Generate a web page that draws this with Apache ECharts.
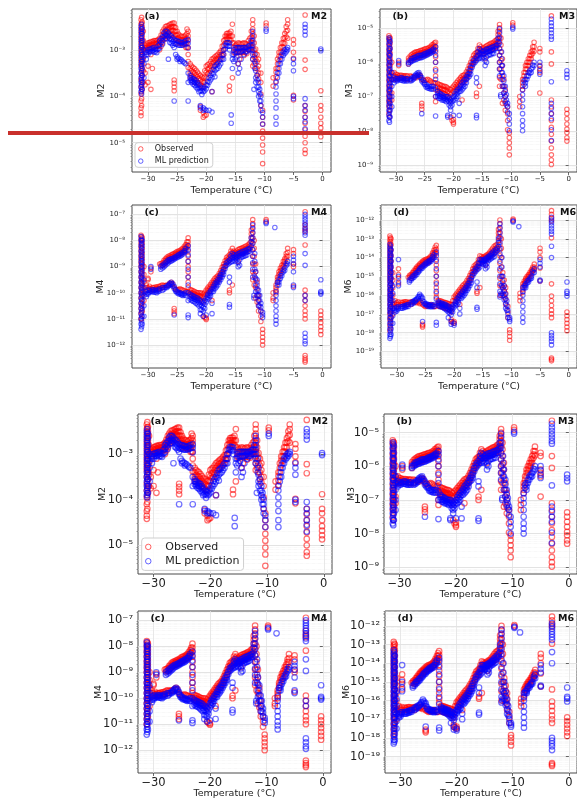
<!DOCTYPE html>
<html>
<head>
<meta charset="utf-8">
<script src="https://cdn.jsdelivr.net/npm/echarts@6.0.0/dist/echarts.min.js"></script>
<style>
html, body { margin: 0; padding: 0; background: #fff; }
#main { width: 577px; height: 803px; }
</style>
</head>
<body>
<div id="main"></div>
<script>
// each entry: [temperature °C, [log10 of the moment values read at that temperature]]
var obsM2 = [
  [-31.2, [-2.35,-2.45,-2.55,-2.65,-2.75,-2.85,-2.95,-3.05,-3.15,-3.25,-3.35,-3.5,-3.65,-3.8,-3.95,-4.1,-4.25,-4.35,-4.42]],
  [-31.1, [-2.3,-2.42,-2.52,-2.62,-2.72,-2.82,-2.92,-3.02,-3.12,-3.22,-3.32,-3.45,-3.6,-3.75,-3.9,-4.05,-4.2]],
  [-31.0, [-2.4,-2.5,-2.6,-2.7,-2.8,-2.9,-3.0,-3.1,-3.2,-3.3,-3.4,-3.55,-3.7,-3.85]],
  [-30.8, [-2.6,-2.8,-3.0,-3.2,-3.45,-3.7]],
  [-30.5, [-2.9,-2.95,-3.05,-3.5,-3.75]],
  [-30.2, [-2.88,-2.94,-3.0]],
  [-30.0, [-2.85,-2.9,-2.95,-3.35,-3.7]],
  [-29.75, [-2.84,-2.9,-2.96]],
  [-29.5, [-2.82,-2.88,-2.95,-3.1,-3.85]],
  [-29.25, [-2.82,-2.88,-2.95,-3.4]],
  [-29.0, [-2.8,-2.85,-2.92]],
  [-28.75, [-2.8,-2.86,-2.92]],
  [-28.5, [-2.8,-2.86,-2.93]],
  [-28.25, [-2.78,-2.84,-2.92]],
  [-28.0, [-2.75,-2.82,-2.9,-3.0]],
  [-27.75, [-2.68,-2.76,-2.84,-2.92]],
  [-27.5, [-2.6,-2.68,-2.76,-2.85]],
  [-27.25, [-2.55,-2.62,-2.7,-2.78]],
  [-27.0, [-2.5,-2.58,-2.66,-2.75]],
  [-26.75, [-2.48,-2.55,-2.62,-2.7]],
  [-26.5, [-2.48,-2.55,-2.62,-2.72]],
  [-26.25, [-2.45,-2.52,-2.6,-2.68]],
  [-26.0, [-2.44,-2.5,-2.58,-2.68]],
  [-25.75, [-2.42,-2.5,-2.58,-2.66]],
  [-25.5, [-2.42,-2.5,-2.6,-2.72,-3.65,-3.72,-3.8,-3.88]],
  [-25.25, [-2.52,-2.6,-2.68,-2.76]],
  [-25.0, [-2.6,-2.68,-2.76,-2.85]],
  [-24.75, [-2.66,-2.74,-2.82]],
  [-24.5, [-2.7,-2.78,-2.86]],
  [-24.25, [-2.7,-2.78,-2.86]],
  [-24.0, [-2.72,-2.8,-2.88]],
  [-23.75, [-2.7,-2.78,-2.86]],
  [-23.5, [-2.68,-2.76,-2.85,-2.95]],
  [-23.3, [-2.55,-2.65,-2.75,-2.85,-2.95]],
  [-23.1, [-2.6,-2.7,-2.8,-2.95,-3.1,-3.25,-3.38]],
  [-22.75, [-3.3,-3.4,-3.5,-3.6]],
  [-22.5, [-3.35,-3.45,-3.55]],
  [-22.25, [-3.38,-3.48,-3.58]],
  [-22.0, [-3.4,-3.5,-3.6,-3.7]],
  [-21.75, [-3.44,-3.54,-3.64]],
  [-21.5, [-3.48,-3.58,-3.7]],
  [-21.25, [-3.52,-3.62,-3.72]],
  [-21.0, [-3.55,-3.65,-3.75,-4.22,-4.3]],
  [-20.75, [-3.58,-3.68,-3.78]],
  [-20.5, [-3.6,-3.7,-3.8,-4.35,-4.45]],
  [-20.25, [-3.45,-3.58,-3.7,-4.42]],
  [-20.0, [-3.35,-3.48,-3.6,-4.4]],
  [-19.75, [-3.32,-3.42,-3.52]],
  [-19.5, [-3.3,-3.4,-3.5]],
  [-19.25, [-3.25,-3.35,-3.45]],
  [-19.0, [-3.2,-3.3,-3.42,-3.9]],
  [-18.75, [-3.18,-3.26,-3.36]],
  [-18.5, [-3.15,-3.22,-3.32]],
  [-18.25, [-3.12,-3.2,-3.28]],
  [-18.0, [-3.1,-3.18,-3.26]],
  [-17.75, [-3.06,-3.14,-3.22]],
  [-17.5, [-3.02,-3.1,-3.2]],
  [-17.25, [-2.92,-3.02,-3.12]],
  [-17.0, [-2.8,-2.9,-3.0,-3.1]],
  [-16.75, [-2.7,-2.78,-2.86]],
  [-16.5, [-2.65,-2.7,-2.76]],
  [-16.25, [-2.64,-2.7,-2.76]],
  [-16.0, [-2.64,-2.7,-2.78,-3.78,-3.88]],
  [-15.75, [-2.6,-2.7,-2.8]],
  [-15.5, [-2.45,-2.7,-2.85,-3.6]],
  [-15.25, [-2.85,-2.95,-3.05]],
  [-15.0, [-2.9,-2.98,-3.08]],
  [-14.75, [-2.88,-2.96,-3.06]],
  [-14.5, [-2.85,-2.94,-3.04,-3.3]],
  [-14.25, [-2.86,-2.96,-3.06,-3.2]],
  [-14.0, [-2.88,-2.96,-3.06]],
  [-13.75, [-2.86,-2.96,-3.06]],
  [-13.5, [-2.85,-2.95,-3.12]],
  [-13.25, [-2.86,-2.96,-3.06]],
  [-13.0, [-2.88,-2.98,-3.08]],
  [-12.75, [-2.8,-2.9,-3.0]],
  [-12.5, [-2.75,-2.86,-2.96]],
  [-12.25, [-2.6,-2.72,-2.84,-2.96]],
  [-12.0, [-2.35,-2.45,-2.55,-2.65,-2.75,-2.85,-2.95,-3.05,-3.2,-3.35]],
  [-11.75, [-2.7,-2.85,-3.0,-3.15,-3.3]],
  [-11.5, [-2.98,-3.08,-3.2,-3.4]],
  [-11.25, [-3.1,-3.25,-3.4,-3.55]],
  [-11.0, [-3.2,-3.35,-3.5,-3.62]],
  [-10.6, [-3.5,-3.7,-3.95,-4.2]],
  [-10.3, [-4.3,-4.45,-4.6,-4.75,-4.9,-5.05,-5.2,-5.45]],
  [-9.7, [-2.42,-2.48]],
  [-8.5, [-3.6,-3.78]],
  [-8.0, [-3.4,-3.48,-3.58,-3.68]],
  [-7.75, [-3.2,-3.3,-3.4]],
  [-7.5, [-3.05,-3.14,-3.24]],
  [-7.25, [-2.95,-3.05,-3.15]],
  [-7.0, [-2.85,-2.94,-3.05]],
  [-6.75, [-2.75,-2.85,-2.95]],
  [-6.5, [-2.65,-2.74,-2.86]],
  [-6.25, [-2.5,-2.6,-2.72]],
  [-6.0, [-2.35,-2.45,-2.58,-2.75]],
  [-5.0, [-2.78,-2.88,-3.05,-3.18,-3.98,-4.08]],
  [-3.0, [-2.25,-3.22,-3.42,-4.2,-4.32,-4.45,-4.58,-4.72,-4.86,-5.0,-5.15,-5.23]],
  [-0.3, [-3.88,-4.2,-4.3,-4.45,-4.58,-4.68,-4.78,-4.87]]
];
var mlM2 = [
  [-31.2, [-2.5,-2.6,-2.7,-2.8,-2.9,-3.0,-3.1,-3.2,-3.3,-3.4,-3.5,-3.6,-3.7,-3.8,-3.9]],
  [-31.1, [-2.45,-2.55,-2.65,-2.75,-2.85,-2.95,-3.05,-3.15,-3.25,-3.35,-3.45,-3.55,-3.65,-3.75,-3.85,-3.95]],
  [-31.0, [-2.55,-2.65,-2.8,-2.95,-3.1,-3.25,-3.4,-3.55,-3.7,-3.85]],
  [-30.7, [-3.0,-3.15,-3.3,-3.6]],
  [-30.3, [-3.05,-3.1,-3.2]],
  [-30.0, [-3.0,-3.05,-3.1]],
  [-29.75, [-2.98,-3.04]],
  [-29.5, [-2.98,-3.04]],
  [-29.25, [-2.96,-3.02]],
  [-29.0, [-2.95,-3.0,-3.05]],
  [-28.75, [-2.98,-3.04]],
  [-28.5, [-3.0,-3.06]],
  [-28.25, [-2.9,-2.98]],
  [-28.0, [-2.8,-2.88,-2.96]],
  [-27.75, [-2.76,-2.84]],
  [-27.5, [-2.72,-2.8,-2.88]],
  [-27.25, [-2.64,-2.72]],
  [-27.0, [-2.6,-2.68,-2.76]],
  [-26.75, [-2.6,-2.68,-2.76]],
  [-26.5, [-2.64,-2.72,-3.2]],
  [-26.25, [-2.68,-2.76,-2.84]],
  [-26.0, [-2.7,-2.78,-2.86]],
  [-25.75, [-2.74,-2.82,-2.9]],
  [-25.5, [-2.78,-2.86,-2.95,-4.1]],
  [-25.25, [-2.8,-2.88,-3.1]],
  [-25.0, [-2.8,-2.88,-3.15,-3.2]],
  [-24.75, [-2.82,-2.9,-3.18]],
  [-24.5, [-2.82,-2.9,-3.2,-3.25]],
  [-24.25, [-2.84,-2.9,-3.22]],
  [-24.0, [-2.84,-2.9,-3.25]],
  [-23.75, [-2.82,-2.88,-3.28]],
  [-23.5, [-2.8,-2.87,-3.3]],
  [-23.1, [-2.78,-2.86,-2.96,-3.5,-3.7,-4.1]],
  [-22.75, [-3.55,-3.6,-3.66]],
  [-22.5, [-3.6,-3.65,-3.7]],
  [-22.25, [-3.62,-3.68,-3.74]],
  [-22.0, [-3.64,-3.7,-3.76]],
  [-21.75, [-3.66,-3.72,-3.8]],
  [-21.5, [-3.7,-3.76,-3.84]],
  [-21.25, [-3.75,-3.82,-3.9]],
  [-21.0, [-3.8,-3.88,-4.2,-4.25]],
  [-20.75, [-3.82,-3.88,-3.96]],
  [-20.5, [-3.84,-3.9,-4.25,-4.3]],
  [-20.25, [-3.8,-3.88,-4.28]],
  [-20.0, [-3.75,-3.84,-4.3]],
  [-19.75, [-3.68,-3.76]],
  [-19.5, [-3.6,-3.7,-4.3]],
  [-19.25, [-3.55,-3.65]],
  [-19.0, [-3.5,-3.6,-3.9,-4.34]],
  [-18.75, [-3.42,-3.52]],
  [-18.5, [-3.35,-3.45,-3.58]],
  [-18.25, [-3.32,-3.42]],
  [-18.0, [-3.3,-3.4]],
  [-17.75, [-3.25,-3.35]],
  [-17.5, [-3.2,-3.3]],
  [-17.25, [-3.1,-3.2]],
  [-17.0, [-3.0,-3.1,-3.2]],
  [-16.75, [-2.9,-2.98]],
  [-16.5, [-2.84,-2.9]],
  [-16.25, [-2.84,-2.92]],
  [-16.0, [-2.85,-2.92,-3.0]],
  [-15.7, [-4.4,-4.58]],
  [-15.5, [-3.1,-3.2,-3.4]],
  [-15.25, [-3.0,-3.1,-3.25]],
  [-15.0, [-2.95,-3.05,-3.2]],
  [-14.75, [-2.95,-3.05,-3.15]],
  [-14.5, [-2.95,-3.05,-3.3,-3.5]],
  [-14.25, [-2.95,-3.05,-3.4]],
  [-14.0, [-2.95,-3.04,-3.2]],
  [-13.75, [-2.95,-3.02]],
  [-13.5, [-2.95,-3.0,-3.1]],
  [-13.25, [-2.95,-3.04]],
  [-13.0, [-2.95,-3.04]],
  [-12.75, [-2.92,-3.0]],
  [-12.5, [-2.9,-3.0]],
  [-12.25, [-2.8,-2.9,-3.0]],
  [-12.0, [-2.6,-2.7,-2.8,-2.9,-3.0,-3.1,-3.2]],
  [-11.8, [-3.85]],
  [-11.65, [-3.1,-3.25,-3.4]],
  [-11.5, [-3.3,-3.45,-3.6,-3.7]],
  [-11.25, [-3.55,-3.65,-3.8]],
  [-11.0, [-3.7,-3.8,-3.9,-4.0]],
  [-10.8, [-3.85,-3.95,-4.1]],
  [-10.6, [-4.0,-4.1,-4.2,-4.3]],
  [-10.3, [-4.35,-4.45,-4.6]],
  [-9.7, [-2.55,-2.6]],
  [-8.0, [-3.7,-3.8,-3.95,-4.1,-4.25,-4.45,-4.6]],
  [-7.75, [-3.5,-3.6]],
  [-7.5, [-3.3,-3.4,-3.5]],
  [-7.25, [-3.2,-3.3]],
  [-7.0, [-3.1,-3.2]],
  [-6.75, [-3.05,-3.12]],
  [-6.5, [-3.0,-3.08]],
  [-6.25, [-2.98,-3.04]],
  [-6.0, [-2.95,-3.0]],
  [-5.0, [-3.2,-3.3,-3.45,-4.0,-4.05]],
  [-3.0, [-2.45,-2.52,-2.6,-2.68,-4.05,-4.2,-4.3,-4.45,-4.55,-4.7]],
  [-0.3, [-2.98,-3.02]]
];
var obsM3 = [
  [-31.2, [-5.23,-5.35,-5.5,-5.65,-5.8,-5.95,-6.1,-6.25,-6.4,-6.55,-6.7,-6.85,-7.0,-7.15,-7.3,-7.5]],
  [-31.1, [-5.28,-5.4,-5.55,-5.7,-5.85,-6.0,-6.15,-6.3,-6.45,-6.6,-6.75,-6.9,-7.05,-7.2,-7.4,-7.6]],
  [-31.0, [-5.3,-5.45,-5.6,-5.75,-5.9,-6.1,-6.3,-6.5,-6.7,-6.9,-7.1,-7.3]],
  [-30.7, [-6.0,-6.3,-6.5,-6.9,-7.1]],
  [-30.3, [-6.3,-6.4,-6.5]],
  [-30.0, [-6.35,-6.42,-6.5]],
  [-29.75, [-6.36,-6.44]],
  [-29.5, [-6.0,-6.1,-6.4,-6.46]],
  [-29.25, [-6.38,-6.46]],
  [-29.0, [-6.38,-6.45]],
  [-28.75, [-6.4,-6.46]],
  [-28.5, [-6.4,-6.46]],
  [-28.25, [-6.4,-6.48]],
  [-28.0, [-6.4,-6.5]],
  [-27.8, [-5.88,-5.95,-6.05]],
  [-27.5, [-5.82,-5.9,-6.4,-6.5]],
  [-27.25, [-5.78,-5.86,-5.94,-6.42]],
  [-27.0, [-5.75,-5.82,-5.9,-6.42]],
  [-26.75, [-5.72,-5.8,-5.88,-6.44]],
  [-26.5, [-5.7,-5.78,-5.86,-6.45]],
  [-26.25, [-5.7,-5.77,-5.85,-6.4]],
  [-26.0, [-5.68,-5.75,-5.85,-6.35,-6.42]],
  [-25.75, [-5.66,-5.74,-5.82,-6.4]],
  [-25.5, [-5.65,-5.72,-5.8,-6.5,-7.2,-7.28,-7.37]],
  [-25.25, [-5.64,-5.71,-5.79,-6.52]],
  [-25.0, [-5.62,-5.7,-5.78,-6.55]],
  [-24.75, [-5.6,-5.68,-5.76,-6.52]],
  [-24.5, [-5.6,-5.68,-5.75,-6.5]],
  [-24.25, [-5.57,-5.64,-5.72,-6.52]],
  [-24.0, [-5.55,-5.62,-5.7,-6.55]],
  [-23.75, [-5.5,-5.58,-5.66,-6.58]],
  [-23.5, [-5.48,-5.55,-5.65,-6.6]],
  [-23.3, [-5.44,-5.52,-5.62,-6.6]],
  [-23.1, [-5.42,-5.55,-5.7,-5.85,-6.0,-6.2,-6.4,-6.6,-6.8,-7.0,-7.15]],
  [-22.75, [-6.62,-6.72,-6.82]],
  [-22.5, [-6.65,-6.75,-6.85]],
  [-22.25, [-6.66,-6.76,-6.86]],
  [-22.0, [-6.68,-6.78,-6.9]],
  [-21.75, [-6.7,-6.8,-6.9]],
  [-21.5, [-6.7,-6.8,-6.92]],
  [-21.25, [-6.72,-6.82,-6.95]],
  [-21.0, [-6.75,-6.85,-7.0]],
  [-20.75, [-6.78,-6.9,-7.02]],
  [-20.5, [-6.8,-6.95,-7.1,-7.6]],
  [-20.25, [-6.75,-6.9,-7.7]],
  [-20.0, [-6.7,-6.85,-7.67,-7.75,-7.8]],
  [-19.75, [-6.65,-6.75,-6.85]],
  [-19.5, [-6.6,-6.7,-6.8]],
  [-19.25, [-6.55,-6.65,-6.75]],
  [-19.0, [-6.5,-6.6,-6.7]],
  [-18.75, [-6.45,-6.55,-6.65]],
  [-18.5, [-6.4,-6.5,-6.6,-7.1]],
  [-18.25, [-6.38,-6.48,-6.58]],
  [-18.0, [-6.35,-6.45,-6.55]],
  [-17.75, [-6.28,-6.38,-6.48]],
  [-17.5, [-6.2,-6.3,-6.4]],
  [-17.25, [-6.1,-6.2,-6.3]],
  [-17.0, [-6.0,-6.1,-6.2]],
  [-16.75, [-5.9,-6.0,-6.1]],
  [-16.5, [-5.8,-5.9,-6.0]],
  [-16.25, [-5.75,-5.85,-5.95]],
  [-16.0, [-5.72,-5.8,-5.9,-6.9,-7.0]],
  [-15.75, [-5.6,-5.7,-5.8]],
  [-15.5, [-5.5,-5.62,-5.75,-6.7]],
  [-15.25, [-5.55,-5.64,-5.72]],
  [-15.0, [-5.6,-5.68,-5.75]],
  [-14.75, [-5.58,-5.66,-5.74]],
  [-14.5, [-5.55,-5.62,-5.7,-5.9]],
  [-14.25, [-5.52,-5.6,-5.7]],
  [-14.0, [-5.5,-5.6,-5.68]],
  [-13.75, [-5.48,-5.56,-5.66]],
  [-13.5, [-5.45,-5.55,-5.65]],
  [-13.25, [-5.44,-5.52,-5.62]],
  [-13.0, [-5.42,-5.5,-5.6]],
  [-12.75, [-5.38,-5.46,-5.56]],
  [-12.5, [-5.35,-5.45,-5.55]],
  [-12.25, [-5.1,-5.2,-5.32,-5.45]],
  [-12.0, [-4.9,-5.0,-5.1,-5.25,-5.4,-5.6,-5.8,-6.0,-6.2,-6.45,-6.7]],
  [-11.75, [-5.3,-5.5,-5.7,-5.95,-6.2,-6.5]],
  [-11.5, [-5.9,-6.1,-6.4,-6.7,-7.2]],
  [-11.25, [-6.5,-6.7,-6.9,-7.1]],
  [-11.0, [-6.8,-7.0,-7.2,-7.4]],
  [-10.6, [-7.3,-7.5,-7.7,-7.97]],
  [-10.3, [-8.06,-8.2,-8.35,-8.5,-8.7]],
  [-9.7, [-4.85,-4.92]],
  [-8.5, [-7.0,-7.15,-7.3]],
  [-8.0, [-6.5,-6.6,-6.7,-6.8]],
  [-7.75, [-6.3,-6.4,-6.5]],
  [-7.5, [-6.1,-6.2,-6.3]],
  [-7.25, [-6.0,-6.1,-6.2]],
  [-7.0, [-5.9,-6.0,-6.1]],
  [-6.75, [-5.8,-5.9,-6.0]],
  [-6.5, [-5.7,-5.8,-5.9]],
  [-6.25, [-5.55,-5.65,-5.75]],
  [-6.0, [-5.42,-5.55,-5.68]],
  [-5.0, [-5.6,-5.7,-6.1,-6.2,-6.3,-6.9]],
  [-3.0, [-4.65,-5.7,-6.05,-7.1,-7.3,-7.5,-7.7,-7.9,-8.1,-8.3,-8.5,-8.7,-8.85,-8.98]],
  [-0.3, [-7.37,-7.5,-7.65,-7.8,-7.95,-8.05,-8.2,-8.3]]
];
var mlM3 = [
  [-31.2, [-5.3,-5.45,-5.6,-5.75,-5.9,-6.05,-6.2,-6.35,-6.5,-6.65,-6.8,-6.95,-7.1,-7.25,-7.4,-7.55,-7.7]],
  [-31.1, [-5.35,-5.5,-5.65,-5.8,-5.95,-6.1,-6.25,-6.4,-6.55,-6.7,-6.85,-7.0,-7.15,-7.3,-7.45,-7.6,-7.75]],
  [-31.0, [-5.4,-5.6,-5.8,-6.0,-6.2,-6.4,-6.6,-6.8,-7.0,-7.2,-7.4,-7.6]],
  [-30.7, [-6.3,-6.5,-6.7,-7.0,-7.3]],
  [-30.3, [-6.45,-6.52,-6.6]],
  [-30.0, [-6.48,-6.55]],
  [-29.75, [-6.48,-6.54]],
  [-29.5, [-5.95,-6.05,-6.5]],
  [-29.25, [-6.46,-6.52]],
  [-29.0, [-6.45,-6.52]],
  [-28.75, [-6.48,-6.54]],
  [-28.5, [-6.5,-6.55]],
  [-28.25, [-6.48,-6.54]],
  [-28.0, [-6.48,-6.55]],
  [-27.8, [-6.0,-6.05]],
  [-27.5, [-5.95,-6.0,-6.5,-6.55]],
  [-27.25, [-5.9,-5.97,-6.47,-6.53]],
  [-27.0, [-5.88,-5.95,-6.45,-6.5]],
  [-26.75, [-5.86,-5.93,-6.4,-6.46]],
  [-26.5, [-5.85,-5.92,-6.35,-6.4]],
  [-26.25, [-5.82,-5.9,-6.32,-6.38]],
  [-26.0, [-5.8,-5.88,-6.3,-6.36]],
  [-25.75, [-5.8,-5.87,-6.38,-6.45]],
  [-25.5, [-5.8,-5.86,-6.45,-6.55,-7.5]],
  [-25.25, [-5.78,-5.84,-6.52,-6.6]],
  [-25.0, [-5.75,-5.82,-6.6,-6.65]],
  [-24.75, [-5.74,-5.8,-6.65,-6.72]],
  [-24.5, [-5.72,-5.78,-6.7,-6.75]],
  [-24.25, [-5.7,-5.76,-6.7,-6.76]],
  [-24.0, [-5.68,-5.74,-6.72,-6.78]],
  [-23.75, [-5.65,-5.71,-6.7,-6.78]],
  [-23.5, [-5.62,-5.68,-6.7,-6.78]],
  [-23.1, [-5.55,-5.65,-5.8,-6.0,-6.25,-6.5,-6.75,-7.0,-7.57]],
  [-22.75, [-6.85,-6.92,-7.0]],
  [-22.5, [-6.9,-6.98,-7.05]],
  [-22.25, [-6.92,-7.0,-7.06]],
  [-22.0, [-6.95,-7.02,-7.1]],
  [-21.75, [-6.98,-7.04,-7.1]],
  [-21.5, [-7.0,-7.06,-7.12]],
  [-21.25, [-7.0,-7.08,-7.15]],
  [-21.0, [-7.0,-7.1,-7.55,-7.6]],
  [-20.75, [-7.05,-7.15,-7.25]],
  [-20.5, [-7.1,-7.2,-7.3,-7.4]],
  [-20.25, [-7.05,-7.15,-7.25]],
  [-20.0, [-7.0,-7.1,-7.55]],
  [-19.75, [-6.92,-7.0,-7.1]],
  [-19.5, [-6.85,-6.95,-7.05]],
  [-19.25, [-6.8,-6.9,-7.0]],
  [-19.0, [-6.75,-6.85,-7.2,-7.55]],
  [-18.75, [-6.68,-6.76,-6.85]],
  [-18.5, [-6.6,-6.7,-6.8]],
  [-18.25, [-6.55,-6.65,-6.75]],
  [-18.0, [-6.5,-6.6,-6.7]],
  [-17.75, [-6.42,-6.5,-6.6]],
  [-17.5, [-6.35,-6.45]],
  [-17.25, [-6.25,-6.33,-6.42]],
  [-17.0, [-6.15,-6.25,-6.35]],
  [-16.75, [-6.05,-6.15]],
  [-16.5, [-5.95,-6.05]],
  [-16.25, [-5.9,-6.0]],
  [-16.0, [-5.85,-5.95,-6.45,-6.6,-7.55,-7.62]],
  [-15.75, [-5.7,-5.8,-5.9]],
  [-15.5, [-5.6,-5.75,-5.9]],
  [-15.25, [-5.65,-5.75,-5.85]],
  [-15.0, [-5.7,-5.78,-5.9]],
  [-14.75, [-5.68,-5.76,-5.86]],
  [-14.5, [-5.65,-5.75,-5.95,-6.1]],
  [-14.25, [-5.62,-5.7,-5.85,-6.0]],
  [-14.0, [-5.62,-5.7,-5.8]],
  [-13.75, [-5.6,-5.68,-5.78]],
  [-13.5, [-5.58,-5.66,-5.78]],
  [-13.25, [-5.56,-5.64,-5.74]],
  [-13.0, [-5.55,-5.65,-5.75]],
  [-12.75, [-5.52,-5.6]],
  [-12.5, [-5.5,-5.6]],
  [-12.25, [-5.3,-5.4,-5.5]],
  [-12.0, [-5.03,-5.15,-5.3,-5.45,-5.6,-5.8,-6.0,-6.2,-6.4]],
  [-11.8, [-7.0,-6.95]],
  [-11.65, [-5.7,-5.9,-6.1,-6.3]],
  [-11.5, [-6.1,-6.3,-6.5,-6.7]],
  [-11.25, [-6.4,-6.55,-6.7,-6.9]],
  [-11.0, [-6.7,-6.85,-7.0,-7.15]],
  [-10.8, [-6.95,-7.1,-7.25]],
  [-10.6, [-7.2,-7.3,-7.45]],
  [-10.3, [-7.5,-7.65,-7.8,-8.0]],
  [-9.7, [-4.98,-5.03]],
  [-8.0, [-6.8,-6.95,-7.1,-7.3,-7.5,-7.7,-7.85,-8.0]],
  [-7.75, [-6.55,-6.65]],
  [-7.5, [-6.5,-6.6,-6.7]],
  [-7.25, [-6.4,-6.5]],
  [-7.0, [-6.3,-6.4]],
  [-6.75, [-6.25,-6.32]],
  [-6.5, [-6.2,-6.3]],
  [-6.25, [-6.08,-6.16]],
  [-6.0, [-6.0,-6.1]],
  [-5.0, [-6.0,-6.12,-6.25,-6.35]],
  [-3.0, [-4.74,-4.85,-4.95,-5.05,-5.15,-5.25,-5.33,-6.57,-7.2,-7.35,-7.5,-7.65,-7.97,-8.28]],
  [-0.3, [-6.25,-6.35,-6.45]]
];
var obsM4 = [
  [-31.2, [-7.8,-7.95,-8.1,-8.25,-8.4,-8.55,-8.7,-8.85,-9.0,-9.2,-9.4,-9.6,-9.8,-10.0,-10.2,-10.4,-10.6,-10.8,-11.0]],
  [-31.1, [-7.85,-8.0,-8.15,-8.3,-8.45,-8.6,-8.75,-8.9,-9.05,-9.25,-9.45,-9.65,-9.85,-10.05,-10.25,-10.5,-10.75,-11.0]],
  [-31.0, [-7.9,-8.1,-8.3,-8.5,-8.7,-8.9,-9.1,-9.3,-9.5,-9.7,-9.9,-10.1,-10.4,-10.7]],
  [-30.7, [-9.0,-9.3,-9.6,-10.0,-10.3]],
  [-30.3, [-9.7,-9.8,-9.9]],
  [-30.0, [-9.45,-9.5,-9.8,-9.9]],
  [-29.75, [-9.75,-9.85]],
  [-29.5, [-9.05,-9.2,-9.85,-9.92]],
  [-29.25, [-9.8,-9.88]],
  [-29.0, [-9.8,-9.88]],
  [-28.75, [-9.78,-9.86]],
  [-28.5, [-9.78,-9.85]],
  [-28.25, [-9.76,-9.84]],
  [-28.0, [-8.9,-9.75,-9.85]],
  [-27.75, [-8.88,-8.96,-9.72,-9.82]],
  [-27.5, [-8.85,-8.95,-9.7,-9.8]],
  [-27.25, [-8.76,-8.84,-8.92,-9.72]],
  [-27.0, [-8.7,-8.78,-8.86,-9.72]],
  [-26.75, [-8.64,-8.72,-8.8,-9.7]],
  [-26.5, [-8.6,-8.68,-8.76,-9.7]],
  [-26.25, [-8.58,-8.66,-8.74,-9.64]],
  [-26.0, [-8.55,-8.62,-8.7,-9.6,-9.68]],
  [-25.75, [-8.52,-8.6,-8.68,-9.66]],
  [-25.5, [-8.5,-8.58,-8.66,-9.8,-10.6,-10.7,-10.8]],
  [-25.25, [-8.46,-8.54,-8.62,-9.86]],
  [-25.0, [-8.42,-8.5,-8.58,-9.9]],
  [-24.75, [-8.4,-8.48,-8.56,-9.88]],
  [-24.5, [-8.38,-8.45,-8.52,-9.85]],
  [-24.25, [-8.34,-8.42,-8.5,-9.88]],
  [-24.0, [-8.3,-8.38,-8.46,-9.9]],
  [-23.75, [-8.22,-8.3,-8.4,-9.92]],
  [-23.5, [-8.15,-8.25,-8.35,-9.95]],
  [-23.3, [-8.05,-8.15,-8.25,-9.95]],
  [-23.1, [-7.9,-8.05,-8.2,-8.4,-8.6,-8.8,-9.0,-9.2,-9.4,-9.6,-9.8,-10.0]],
  [-22.75, [-9.88,-9.98,-10.08]],
  [-22.5, [-9.9,-10.0,-10.1]],
  [-22.25, [-9.92,-10.02,-10.12]],
  [-22.0, [-9.95,-10.05,-10.15]],
  [-21.75, [-9.98,-10.08,-10.18]],
  [-21.5, [-10.0,-10.1,-10.2]],
  [-21.25, [-10.0,-10.1,-10.22]],
  [-21.0, [-10.0,-10.12,-10.25]],
  [-20.75, [-10.02,-10.15,-10.3]],
  [-20.5, [-10.05,-10.2,-10.35,-10.9]],
  [-20.25, [-9.98,-10.12,-10.95]],
  [-20.0, [-9.9,-10.05,-10.97,-11.02]],
  [-19.75, [-9.82,-9.92,-10.02]],
  [-19.5, [-9.75,-9.85,-9.95]],
  [-19.25, [-9.68,-9.78,-9.88]],
  [-19.0, [-9.6,-9.7,-9.8,-10.3]],
  [-18.75, [-9.52,-9.62,-9.72]],
  [-18.5, [-9.45,-9.55,-9.65]],
  [-18.25, [-9.4,-9.5,-9.6]],
  [-18.0, [-9.35,-9.45,-9.55]],
  [-17.75, [-9.25,-9.35,-9.45]],
  [-17.5, [-9.15,-9.25,-9.35]],
  [-17.25, [-9.02,-9.12,-9.22]],
  [-17.0, [-8.9,-9.0,-9.1]],
  [-16.75, [-8.78,-8.88,-8.98]],
  [-16.5, [-8.65,-8.75,-8.85]],
  [-16.25, [-8.6,-8.7,-8.8]],
  [-16.0, [-8.55,-8.65,-8.75,-9.9,-10.0]],
  [-15.75, [-8.4,-8.5,-8.6]],
  [-15.5, [-8.3,-8.45,-8.6,-9.7]],
  [-15.25, [-8.4,-8.48,-8.56]],
  [-15.0, [-8.45,-8.52,-8.6]],
  [-14.75, [-8.4,-8.48,-8.56]],
  [-14.5, [-8.35,-8.45,-8.55,-8.8]],
  [-14.25, [-8.32,-8.42,-8.52]],
  [-14.0, [-8.3,-8.4,-8.5]],
  [-13.75, [-8.28,-8.38,-8.48]],
  [-13.5, [-8.25,-8.35,-8.45]],
  [-13.25, [-8.22,-8.32,-8.42]],
  [-13.0, [-8.2,-8.3,-8.4]],
  [-12.75, [-8.15,-8.25,-8.35]],
  [-12.5, [-8.1,-8.2,-8.3]],
  [-12.25, [-7.6,-7.75,-7.9,-8.05]],
  [-12.0, [-7.2,-7.35,-7.5,-7.7,-7.9,-8.1,-8.35,-8.6,-8.9,-9.2,-9.5]],
  [-11.75, [-8.0,-8.3,-8.6,-8.9,-9.3,-9.7]],
  [-11.5, [-8.9,-9.2,-9.5,-9.8,-10.2]],
  [-11.25, [-9.6,-9.85,-10.1,-10.35]],
  [-11.0, [-10.1,-10.3,-10.5,-10.7]],
  [-10.6, [-10.7,-10.9,-11.1]],
  [-10.3, [-11.4,-11.55,-11.7,-11.85,-12.0]],
  [-9.7, [-7.2,-7.26]],
  [-8.5, [-10.0,-10.2,-10.3]],
  [-8.0, [-9.7,-9.8,-9.9,-10.0]],
  [-7.75, [-9.4,-9.5,-9.6]],
  [-7.5, [-9.2,-9.3,-9.4]],
  [-7.25, [-9.05,-9.15,-9.25]],
  [-7.0, [-8.95,-9.05,-9.15]],
  [-6.75, [-8.8,-8.9,-9.0]],
  [-6.5, [-8.7,-8.8,-8.9]],
  [-6.25, [-8.5,-8.6,-8.7]],
  [-6.0, [-8.3,-8.45,-8.6]],
  [-5.0, [-8.35,-8.5,-8.9,-9.0,-9.75]],
  [-3.0, [-6.9,-7.4,-7.55,-7.65,-8.17,-9.9,-10.1,-10.3,-10.5,-10.7,-10.85,-11.0,-12.4,-12.5,-12.58,-12.65]],
  [-0.3, [-10.7,-10.85,-11.0,-11.15,-11.3,-11.45,-11.6]]
];
var mlM4 = [
  [-31.2, [-7.85,-8.0,-8.2,-8.4,-8.6,-8.8,-9.0,-9.2,-9.4,-9.6,-9.8,-10.0,-10.2,-10.4,-10.6,-10.8,-11.0,-11.2,-11.4]],
  [-31.1, [-7.95,-8.1,-8.3,-8.5,-8.7,-8.9,-9.1,-9.3,-9.5,-9.7,-9.9,-10.1,-10.3,-10.5,-10.7,-10.9,-11.1,-11.3]],
  [-31.0, [-8.0,-8.2,-8.4,-8.6,-8.8,-9.0,-9.2,-9.4,-9.6,-9.8,-10.0,-10.3,-10.6,-10.9,-11.2]],
  [-30.7, [-9.5,-9.8,-10.1,-10.5,-10.9]],
  [-30.3, [-9.95,-10.05,-10.15]],
  [-30.0, [-9.9,-10.0,-10.05]],
  [-29.75, [-9.9,-9.98]],
  [-29.5, [-9.0,-9.1,-9.95]],
  [-29.25, [-9.88,-9.96]],
  [-29.0, [-9.9,-9.97]],
  [-28.75, [-9.9,-9.98]],
  [-28.5, [-9.92,-10.0]],
  [-28.25, [-9.88,-9.95]],
  [-28.0, [-9.85,-9.92]],
  [-27.8, [-9.0,-9.1]],
  [-27.5, [-8.95,-9.05,-9.8,-9.9]],
  [-27.25, [-8.9,-9.0,-9.8,-9.86]],
  [-27.0, [-8.85,-8.95,-9.8]],
  [-26.75, [-8.8,-8.9,-9.74,-9.8]],
  [-26.5, [-8.75,-8.85,-9.7,-9.75]],
  [-26.25, [-8.72,-8.8,-9.64,-9.7]],
  [-26.0, [-8.7,-8.78,-9.6,-9.66]],
  [-25.75, [-8.68,-8.75,-9.66,-9.74]],
  [-25.5, [-8.65,-8.72,-9.75,-9.85,-10.85]],
  [-25.25, [-8.62,-8.68,-9.88,-9.94]],
  [-25.0, [-8.58,-8.65,-9.95,-10.0]],
  [-24.75, [-8.55,-8.62,-9.98,-10.04]],
  [-24.5, [-8.52,-8.6,-10.0,-10.05]],
  [-24.25, [-8.48,-8.56,-10.02,-10.08]],
  [-24.0, [-8.45,-8.52,-10.05,-10.1]],
  [-23.75, [-8.38,-8.46,-10.02,-10.08]],
  [-23.5, [-8.3,-8.4,-10.0,-10.1]],
  [-23.1, [-8.2,-8.35,-8.55,-8.8,-9.1,-9.4,-9.7,-10.0,-10.3,-10.85,-10.95]],
  [-22.75, [-10.05,-10.15,-10.25]],
  [-22.5, [-10.1,-10.2,-10.3]],
  [-22.25, [-10.12,-10.22,-10.32]],
  [-22.0, [-10.15,-10.25,-10.35]],
  [-21.75, [-10.18,-10.28,-10.4]],
  [-21.5, [-10.2,-10.3,-10.45]],
  [-21.25, [-10.25,-10.38,-10.5]],
  [-21.0, [-10.3,-10.45,-10.65,-10.8]],
  [-20.75, [-10.35,-10.5,-10.65]],
  [-20.5, [-10.4,-10.55,-10.7,-10.9]],
  [-20.25, [-10.3,-10.45,-10.6]],
  [-20.0, [-10.2,-10.35,-10.85]],
  [-19.75, [-10.08,-10.16,-10.26]],
  [-19.5, [-10.0,-10.1,-10.2]],
  [-19.25, [-9.92,-10.02,-10.12]],
  [-19.0, [-9.85,-9.95,-10.4,-10.8]],
  [-18.75, [-9.75,-9.85,-9.95]],
  [-18.5, [-9.65,-9.75,-9.85]],
  [-18.25, [-9.58,-9.68,-9.78]],
  [-18.0, [-9.5,-9.6,-9.7]],
  [-17.75, [-9.4,-9.5,-9.6]],
  [-17.5, [-9.3,-9.4,-9.5]],
  [-17.25, [-9.2,-9.3,-9.4]],
  [-17.0, [-9.1,-9.2,-9.3]],
  [-16.75, [-8.98,-9.08]],
  [-16.5, [-8.85,-8.95]],
  [-16.25, [-8.8,-8.9]],
  [-16.0, [-8.75,-8.85,-9.4,-9.6,-10.45,-10.55]],
  [-15.75, [-8.58,-8.7,-8.82]],
  [-15.5, [-8.5,-8.65,-8.8]],
  [-15.25, [-8.55,-8.65,-8.75]],
  [-15.0, [-8.6,-8.68,-8.8]],
  [-14.75, [-8.55,-8.65,-8.75]],
  [-14.5, [-8.5,-8.6,-8.85,-9.0]],
  [-14.25, [-8.48,-8.58,-8.75,-8.95]],
  [-14.0, [-8.45,-8.55,-8.65]],
  [-13.75, [-8.42,-8.52,-8.62]],
  [-13.5, [-8.4,-8.5,-8.6]],
  [-13.25, [-8.38,-8.48,-8.58]],
  [-13.0, [-8.35,-8.45,-8.55]],
  [-12.75, [-8.32,-8.42]],
  [-12.5, [-8.3,-8.4]],
  [-12.25, [-7.9,-8.05,-8.2]],
  [-12.0, [-7.4,-7.55,-7.7,-7.9,-8.1,-8.35,-8.6,-8.85,-9.1,-9.4]],
  [-11.8, [-10.2,-10.1]],
  [-11.65, [-8.5,-8.8,-9.1,-9.4]],
  [-11.5, [-9.2,-9.45,-9.7,-9.95]],
  [-11.25, [-9.5,-9.7,-9.9,-10.1]],
  [-11.0, [-9.9,-10.1,-10.3,-10.5]],
  [-10.8, [-10.1,-10.3,-10.5]],
  [-10.6, [-10.4,-10.55,-10.7]],
  [-10.3, [-10.75,-10.85,-10.95]],
  [-9.7, [-7.3,-7.35]],
  [-8.2, [-7.5]],
  [-8.0, [-9.95,-10.1,-10.3,-10.5,-10.7,-10.9,-11.05,-11.2]],
  [-7.75, [-9.6,-9.7]],
  [-7.5, [-9.5,-9.6,-9.7]],
  [-7.25, [-9.35,-9.45]],
  [-7.0, [-9.25,-9.35]],
  [-6.75, [-9.12,-9.2]],
  [-6.5, [-9.05,-9.15]],
  [-6.25, [-8.88,-8.96]],
  [-6.0, [-8.8,-8.9]],
  [-5.0, [-8.6,-8.75,-8.9,-9.2,-9.7,-9.8]],
  [-3.0, [-7.0,-7.1,-7.2,-7.3,-7.4,-7.5,-7.6,-7.7,-7.8,-8.5,-8.95,-10.1,-10.3,-11.55,-11.7,-11.85,-11.95]],
  [-0.3, [-9.5,-9.95,-10.0,-10.05]]
];
var obsM6 = [
  [-31.2, [-12.85,-13.05,-13.25,-13.45,-13.65,-13.85,-14.05,-14.25,-14.45,-14.65,-14.85,-15.05,-15.25,-15.5,-15.75,-16.0,-16.25,-16.5,-16.75,-17.0,-17.3,-17.6,-17.9]],
  [-31.1, [-12.95,-13.15,-13.35,-13.55,-13.75,-13.95,-14.15,-14.35,-14.55,-14.75,-14.95,-15.15,-15.4,-15.65,-15.9,-16.15,-16.4,-16.65,-16.9,-17.15,-17.45,-17.75]],
  [-31.0, [-13.0,-13.3,-13.6,-13.9,-14.2,-14.5,-14.8,-15.1,-15.4,-15.7,-16.0,-16.3,-16.6,-16.9,-17.2]],
  [-30.7, [-14.8,-15.2,-15.6,-16.0,-16.5,-17.0]],
  [-30.3, [-16.3,-16.45,-16.6]],
  [-30.0, [-16.4,-16.5,-16.62]],
  [-29.75, [-16.35,-16.5]],
  [-29.7, [-14.6,-14.9,-15.1,-15.4]],
  [-29.25, [-16.38,-16.5]],
  [-29.0, [-16.4,-16.5]],
  [-28.75, [-16.36,-16.48]],
  [-28.5, [-16.35,-16.45]],
  [-28.25, [-16.36,-16.48]],
  [-28.0, [-15.05,-16.4,-16.5]],
  [-27.75, [-14.95,-15.05,-16.38]],
  [-27.5, [-14.9,-15.0,-15.1,-16.35,-16.5]],
  [-27.25, [-14.8,-14.9,-15.0,-16.35]],
  [-27.0, [-14.7,-14.8,-14.9,-16.35]],
  [-26.75, [-14.6,-14.7,-14.8,-16.38]],
  [-26.5, [-14.5,-14.6,-14.7,-16.4]],
  [-26.25, [-14.42,-14.52,-14.62,-16.35]],
  [-26.0, [-14.35,-14.45,-14.55,-16.3,-16.45]],
  [-25.75, [-14.28,-14.38,-14.48,-16.4]],
  [-25.5, [-14.2,-14.3,-14.4,-16.5,-17.55,-17.62,-17.7]],
  [-25.25, [-14.15,-14.25,-14.35,-16.55]],
  [-25.0, [-14.1,-14.2,-14.3,-16.6]],
  [-24.75, [-14.08,-14.18,-14.28,-16.58]],
  [-24.5, [-14.05,-14.15,-14.25,-16.55]],
  [-24.25, [-13.98,-14.08,-14.18,-16.52]],
  [-24.0, [-13.9,-14.0,-14.1,-16.5]],
  [-23.75, [-13.75,-13.85,-13.98,-16.55]],
  [-23.5, [-13.6,-13.75,-13.9,-16.6]],
  [-23.3, [-13.45,-13.6,-13.75,-16.6]],
  [-23.1, [-13.35,-13.55,-13.8,-14.1,-14.4,-14.7,-15.0,-15.3,-15.6,-15.9,-16.1]],
  [-22.75, [-16.28,-16.42,-16.56]],
  [-22.5, [-16.3,-16.45,-16.6]],
  [-22.25, [-16.32,-16.46,-16.6]],
  [-22.0, [-16.35,-16.5,-16.65]],
  [-21.75, [-16.38,-16.52,-16.66]],
  [-21.5, [-16.4,-16.55,-16.7]],
  [-21.25, [-16.42,-16.56,-16.72]],
  [-21.0, [-16.45,-16.6,-16.75]],
  [-20.75, [-16.48,-16.64,-16.8]],
  [-20.5, [-16.5,-16.7,-16.9,-17.3,-17.4]],
  [-20.25, [-16.3,-16.5,-17.45]],
  [-20.0, [-16.1,-16.3,-17.4,-17.5]],
  [-19.75, [-16.0,-16.15,-16.3]],
  [-19.5, [-15.9,-16.05,-16.2]],
  [-19.25, [-15.8,-15.95,-16.1]],
  [-19.0, [-15.7,-15.85,-16.0,-16.5]],
  [-18.75, [-15.6,-15.75,-15.9]],
  [-18.5, [-15.5,-15.65,-15.8]],
  [-18.25, [-15.42,-15.58,-15.72]],
  [-18.0, [-15.35,-15.5,-15.65]],
  [-17.75, [-15.22,-15.38,-15.52]],
  [-17.5, [-15.1,-15.25,-15.4]],
  [-17.25, [-14.95,-15.1,-15.25]],
  [-17.0, [-14.8,-14.95,-15.1]],
  [-16.75, [-14.6,-14.75,-14.9]],
  [-16.5, [-14.45,-14.6,-14.75]],
  [-16.25, [-14.38,-14.52,-14.66]],
  [-16.0, [-14.3,-14.45,-14.6,-15.8,-15.9]],
  [-15.75, [-14.1,-14.25,-14.4]],
  [-15.5, [-13.9,-14.1,-14.3,-15.6]],
  [-15.25, [-13.95,-14.05,-14.15]],
  [-15.0, [-14.0,-14.1,-14.2]],
  [-14.75, [-13.95,-14.05,-14.15]],
  [-14.5, [-13.9,-14.0,-14.1,-14.4]],
  [-14.25, [-13.85,-13.95,-14.05]],
  [-14.0, [-13.8,-13.9,-14.0]],
  [-13.75, [-13.7,-13.82,-13.95]],
  [-13.5, [-13.6,-13.75,-13.9]],
  [-13.25, [-13.5,-13.65,-13.8]],
  [-13.0, [-13.4,-13.6,-13.8]],
  [-12.75, [-13.35,-13.5,-13.65]],
  [-12.5, [-13.3,-13.45,-13.6]],
  [-12.25, [-12.5,-12.7,-12.9,-13.1]],
  [-12.0, [-12.0,-12.2,-12.45,-12.7,-13.0,-13.3,-13.6,-13.9,-14.3,-14.7,-15.1,-15.5,-16.0]],
  [-11.75, [-13.0,-13.5,-14.0,-14.5,-15.0,-15.5]],
  [-11.5, [-14.8,-15.2,-15.6,-16.0]],
  [-11.25, [-15.2,-15.5,-15.8,-16.1]],
  [-11.0, [-15.6,-15.9,-16.2,-16.5]],
  [-10.6, [-16.6,-16.9,-17.2]],
  [-10.3, [-17.85,-18.0,-18.2,-18.4]],
  [-9.7, [-11.95,-12.02]],
  [-8.5, [-15.9,-16.1,-16.3]],
  [-8.0, [-15.4,-15.55,-15.7,-15.85]],
  [-7.75, [-15.25,-15.35,-15.45]],
  [-7.5, [-15.1,-15.2,-15.3]],
  [-7.25, [-15.0,-15.1,-15.2]],
  [-7.0, [-14.9,-15.0,-15.1]],
  [-6.75, [-14.78,-14.88,-14.98]],
  [-6.5, [-14.65,-14.75,-14.85]],
  [-6.25, [-14.5,-14.6,-14.7]],
  [-6.0, [-14.35,-14.5,-14.65]],
  [-5.0, [-13.5,-13.7,-14.0,-14.55,-15.25]],
  [-3.0, [-11.5,-11.7,-11.9,-12.05,-12.95,-15.4,-16.05,-16.3,-16.55,-16.8,-17.0,-17.2,-19.35,-19.42,-19.5]],
  [-0.3, [-16.9,-17.1,-17.3,-17.5,-17.7,-17.9]]
];
var mlM6 = [
  [-31.2, [-13.3,-13.5,-13.7,-13.9,-14.1,-14.3,-14.5,-14.7,-14.9,-15.1,-15.3,-15.5,-15.7,-15.9,-16.1,-16.3,-16.5,-16.7,-16.9,-17.2,-17.5,-17.8,-18.1,-18.3]],
  [-31.1, [-13.4,-13.6,-13.8,-14.0,-14.2,-14.4,-14.6,-14.8,-15.0,-15.2,-15.4,-15.6,-15.8,-16.0,-16.2,-16.4,-16.6,-16.8,-17.0,-17.35,-17.65,-17.95,-18.2]],
  [-31.0, [-13.6,-13.9,-14.2,-14.5,-14.8,-15.1,-15.4,-15.7,-16.0,-16.3,-16.6,-16.9,-17.2,-17.5,-17.8,-18.1]],
  [-30.7, [-15.5,-15.9,-16.3,-16.7,-17.1,-17.5]],
  [-30.3, [-16.7,-16.8,-16.9]],
  [-30.0, [-16.65,-16.75,-16.85]],
  [-29.75, [-16.62,-16.72]],
  [-29.7, [-14.1,-15.0,-15.3,-15.5]],
  [-29.25, [-16.62,-16.7]],
  [-29.0, [-16.6,-16.7]],
  [-28.75, [-16.58,-16.66]],
  [-28.5, [-16.55,-16.65]],
  [-28.25, [-16.52,-16.6]],
  [-28.0, [-16.5,-16.6]],
  [-27.8, [-15.2,-15.3]],
  [-27.5, [-15.1,-15.2,-16.4,-16.5]],
  [-27.25, [-15.0,-15.1,-16.35,-16.45]],
  [-27.0, [-14.95,-15.05,-16.3,-16.4]],
  [-26.75, [-14.85,-14.95,-16.25,-16.32]],
  [-26.5, [-14.8,-14.9,-16.2,-16.25]],
  [-26.25, [-14.7,-14.78,-16.08,-16.15]],
  [-26.0, [-14.6,-14.7,-15.95,-16.05]],
  [-25.75, [-14.52,-14.6,-16.05,-16.15]],
  [-25.5, [-14.45,-14.55,-16.15,-16.3,-17.4]],
  [-25.25, [-14.38,-14.46,-16.35,-16.45]],
  [-25.0, [-14.3,-14.4,-16.45,-16.5]],
  [-24.75, [-14.25,-14.34,-16.48,-16.55]],
  [-24.5, [-14.2,-14.3,-16.5,-16.6]],
  [-24.25, [-14.15,-14.24,-16.52,-16.6]],
  [-24.0, [-14.1,-14.2,-16.55,-16.62]],
  [-23.75, [-13.95,-14.08,-16.52,-16.6]],
  [-23.5, [-13.85,-14.0,-16.5,-16.6]],
  [-23.1, [-13.7,-13.9,-14.2,-14.6,-15.0,-15.4,-15.8,-16.2,-17.45,-17.6]],
  [-22.75, [-16.35,-16.45,-16.55]],
  [-22.5, [-16.4,-16.5,-16.6]],
  [-22.25, [-16.42,-16.52,-16.62]],
  [-22.0, [-16.45,-16.55,-16.65]],
  [-21.75, [-16.48,-16.58,-16.7]],
  [-21.5, [-16.5,-16.6,-16.75]],
  [-21.25, [-16.55,-16.68,-16.82]],
  [-21.0, [-16.6,-16.75,-16.9,-17.2]],
  [-20.75, [-16.65,-16.8,-16.95]],
  [-20.5, [-16.7,-16.85,-17.05,-17.4,-17.55]],
  [-20.25, [-16.6,-16.75,-16.9]],
  [-20.0, [-16.5,-16.65,-17.5,-17.6]],
  [-19.75, [-16.35,-16.45,-16.55]],
  [-19.5, [-16.2,-16.35,-16.5]],
  [-19.25, [-16.1,-16.25,-16.4]],
  [-19.0, [-16.0,-16.15,-16.7,-17.0]],
  [-18.75, [-15.9,-16.05,-16.18]],
  [-18.5, [-15.8,-15.95,-16.1]],
  [-18.25, [-15.7,-15.85,-16.0]],
  [-18.0, [-15.6,-15.75,-15.9]],
  [-17.75, [-15.48,-15.62,-15.75]],
  [-17.5, [-15.35,-15.5,-15.65]],
  [-17.25, [-15.2,-15.35,-15.5]],
  [-17.0, [-15.05,-15.2,-15.35]],
  [-16.75, [-14.88,-15.0]],
  [-16.5, [-14.7,-14.85]],
  [-16.25, [-14.6,-14.75]],
  [-16.0, [-14.5,-14.65,-15.3,-15.6,-16.65,-16.75]],
  [-15.75, [-14.3,-14.45,-14.6]],
  [-15.5, [-14.1,-14.3,-14.5]],
  [-15.25, [-14.1,-14.2,-14.3]],
  [-15.0, [-14.15,-14.25,-14.35]],
  [-14.75, [-14.1,-14.2,-14.3]],
  [-14.5, [-14.05,-14.15,-14.4,-14.6]],
  [-14.25, [-14.0,-14.1,-14.3,-14.5]],
  [-14.0, [-13.95,-14.05,-14.15]],
  [-13.75, [-13.88,-13.98,-14.1]],
  [-13.5, [-13.8,-13.9,-14.05]],
  [-13.25, [-13.72,-13.85,-13.98]],
  [-13.0, [-13.65,-13.8,-13.95]],
  [-12.75, [-13.58,-13.72]],
  [-12.5, [-13.5,-13.65]],
  [-12.25, [-13.0,-13.2,-13.4]],
  [-12.0, [-12.2,-12.4,-12.65,-12.9,-13.2,-13.5,-13.8,-14.2,-14.6,-15.0,-15.4,-15.8,-16.1]],
  [-11.8, [-16.0,-15.9]],
  [-11.65, [-14.0,-14.5,-15.0,-15.5]],
  [-11.5, [-15.0,-15.3,-15.6,-15.9]],
  [-11.25, [-15.5,-15.75,-16.0,-16.25]],
  [-11.0, [-15.95,-16.2,-16.45,-16.7]],
  [-10.8, [-16.3,-16.55,-16.8]],
  [-10.6, [-16.8,-17.0,-17.2]],
  [-10.3, [-17.2,-17.3,-17.4]],
  [-9.7, [-12.05,-12.1]],
  [-8.7, [-12.35]],
  [-8.0, [-15.6,-15.8,-16.0,-16.3,-16.6,-16.9,-17.2,-17.45]],
  [-7.75, [-15.5,-15.6]],
  [-7.5, [-15.4,-15.5,-15.6]],
  [-7.25, [-15.25,-15.35]],
  [-7.0, [-15.2,-15.3]],
  [-6.75, [-15.08,-15.15]],
  [-6.5, [-15.0,-15.1]],
  [-6.25, [-14.72,-14.82]],
  [-6.0, [-14.6,-14.8]],
  [-5.0, [-14.1,-14.3,-14.5,-15.2,-15.25]],
  [-3.0, [-11.85,-12.0,-12.15,-12.3,-12.45,-12.6,-12.75,-13.4,-14.0,-18.0,-18.15,-18.3,-18.45,-18.65]],
  [-0.3, [-15.3,-15.8,-15.9,-16.05]]
];

// axis extents (log10 of the moment) and tick positions
var momentNames = ['M2', 'M3', 'M4', 'M6'];
var panelTags = ['(a)', '(b)', '(c)', '(d)'];
var yRanges = [[-5.63, -2.12], [-9.2, -4.45], [-12.88, -6.64], [-19.88, -11.2]];
var xRange = [-32.75, 1.45];
var xTicksTop = [-30, -25, -20, -15, -10, -5, 0];
var xTicksBottom = [-30, -20, -10, 0];

var panelData = [[obsM2, mlM2], [obsM3, mlM3], [obsM4, mlM4], [obsM6, mlM6]];

var FONT = 'DejaVu Sans, sans-serif';
var figs = [
  { // upper copy
    xTicks: xTicksTop, tickFont: 7, sym: 4.5, bw: 1.1, xGap: 14, yMargin: 7, xMargin: 4,
    grids: [[132, 9, 199, 163], [380, 9, 199, 163], [132, 205, 199, 163], [381, 205, 199, 163]],
    yGap: [25.8, 25.2, 26.8, 27],
    legend: { left: 135, top: 142.7, padding: [2.2, 4, 2.2, 3], itemGap: 4.2, itemWidth: 18, itemHeight: 4.5, fontSize: 8 }
  },
  { // lower copy
    xTicks: xTicksBottom, tickFont: 11.5, sym: 5.5, bw: 1.2, xGap: 16, yMargin: 5, xMargin: 4,
    grids: [[138, 414, 194, 160], [384, 414, 194, 160], [138, 611, 193, 162], [385, 611, 193, 162]],
    yGap: [30, 27.8, 34.5, 33.5],
    legend: { left: 141.7, top: 538, padding: [3.4, 4, 3.7, 3.3], itemGap: 3.3, itemWidth: 24, itemHeight: 5.5, fontSize: 11 }
  }
];

var SUP = { '-': '\u207B', '0': '\u2070', '1': '\u00B9', '2': '\u00B2', '3': '\u00B3', '4': '\u2074', '5': '\u2075', '6': '\u2076', '7': '\u2077', '8': '\u2078', '9': '\u2079' };
function pow10Label(v) {
  return '10' + String(Math.round(v)).split('').map(function (c) { return SUP[c]; }).join('');
}
function toPoints(cols) {
  var pts = [];
  cols.forEach(function (c) { c[1].forEach(function (e) { pts.push([c[0], e]); }); });
  return pts;
}
function majorTicks(r) {
  var t = [];
  for (var n = Math.ceil(r[0]); n <= Math.floor(r[1]); n++) t.push(n);
  return t;
}
function minorTicks(r) {
  var t = [];
  for (var n = Math.floor(r[0]); n < Math.ceil(r[1]); n++) {
    for (var k = 2; k <= 9; k++) {
      var v = n + Math.log10(k);
      if (v > r[0] && v < r[1]) t.push(v);
    }
  }
  return t;
}

var grid = [], xAxis = [], yAxis = [], series = [], legend = [], graphic = [];
var gi = 0;
figs.forEach(function (f) {
  for (var p = 0; p < 4; p++) {
    var g = f.grids[p];
    var yr = yRanges[p];
    grid.push({ left: g[0], top: g[1], width: g[2], height: g[3], show: true, borderColor: '#4a4a4a', borderWidth: 1, backgroundColor: '#fff', containLabel: false });
    xAxis.push({
      gridIndex: gi, type: 'value', min: xRange[0], max: xRange[1],
      name: 'Temperature (\u00B0C)', nameLocation: 'middle', nameGap: f.xGap, nameMoveOverlap: false,
      nameTextStyle: { fontSize: 9.5, color: '#222', fontFamily: FONT },
      axisLine: { show: false },
      axisTick: { show: true, customValues: f.xTicks, length: 3, lineStyle: { color: '#444', width: 0.8 } },
      axisLabel: { customValues: f.xTicks, fontSize: f.tickFont, color: '#222', fontFamily: FONT, margin: f.xMargin,
        formatter: function (v) { return String(v).replace('-', '\u2212'); } },
      splitLine: { show: true, lineStyle: { color: '#e2e2e2', width: 0.8 } }
    });
    var maj = majorTicks(yr);
    yAxis.push({
      gridIndex: gi, type: 'value', min: yr[0], max: yr[1], position: 'left',
      name: momentNames[p], nameLocation: 'middle', nameGap: f.yGap[p], nameRotate: 90, nameMoveOverlap: false,
      nameTextStyle: { fontSize: 9.5, color: '#222', fontFamily: FONT },
      axisLine: { show: false },
      axisTick: { show: true, customValues: maj, length: 3, lineStyle: { color: '#444', width: 0.8 } },
      axisLabel: { customValues: maj, fontSize: f.tickFont, color: '#222', fontFamily: FONT, margin: f.yMargin, formatter: pow10Label },
      splitLine: { show: true, lineStyle: { color: '#dcdcdc', width: 0.8 } }
    });
    yAxis.push({
      gridIndex: gi, type: 'value', min: yr[0], max: yr[1], position: 'left',
      axisLine: { show: false }, axisLabel: { show: false },
      axisTick: { show: true, customValues: minorTicks(yr), length: 1.5, lineStyle: { color: '#666', width: 0.6 } },
      splitLine: { show: true, lineStyle: { color: '#ececec', width: 0.6, type: 'dotted' } }
    });
    series.push({
      type: 'scatter', name: 'Observed', xAxisIndex: gi, yAxisIndex: 2 * gi,
      data: toPoints(panelData[p][0]), symbol: 'circle', symbolSize: f.sym, silent: true,
      itemStyle: { color: 'rgba(255,0,0,0)', borderColor: 'rgba(255,0,0,0.7)', borderWidth: f.bw }
    });
    series.push({
      type: 'scatter', name: 'ML prediction', xAxisIndex: gi, yAxisIndex: 2 * gi,
      data: toPoints(panelData[p][1]), symbol: 'circle', symbolSize: f.sym, silent: true,
      itemStyle: { color: 'rgba(0,0,255,0)', borderColor: 'rgba(0,0,255,0.7)', borderWidth: f.bw }
    });
    graphic.push({ type: 'text', z: 50, style: { text: panelTags[p], x: g[0] + 12.5, y: g[1] + 7.8, fill: '#111',
      font: 'bold 9.5px ' + FONT, textAlign: 'left', textVerticalAlign: 'middle' } });
    graphic.push({ type: 'text', z: 50, style: { text: momentNames[p], x: g[0] + g[2] - 4, y: g[1] + 7.8, fill: '#111',
      font: 'bold 9.5px ' + FONT, textAlign: 'right', textVerticalAlign: 'middle' } });
    gi++;
  }
  var L = f.legend;
  legend.push({
    left: L.left, top: L.top, orient: 'vertical', padding: L.padding, itemGap: L.itemGap,
    itemWidth: L.itemWidth, itemHeight: L.itemHeight, selectedMode: false,
    backgroundColor: 'rgba(255,255,255,0.85)', borderColor: '#cfcfcf', borderWidth: 1, borderRadius: 3,
    textStyle: { fontSize: L.fontSize, color: '#222', fontFamily: FONT },
    data: [
      { name: 'Observed', icon: 'circle', itemStyle: { color: 'rgba(255,0,0,0)', borderColor: 'rgba(255,0,0,0.75)', borderWidth: 1 } },
      { name: 'ML prediction', icon: 'circle', itemStyle: { color: 'rgba(0,0,255,0)', borderColor: 'rgba(0,0,255,0.75)', borderWidth: 1 } }
    ]
  });
});

// red marker line drawn across the upper copy
graphic.push({ type: 'rect', z: 100, shape: { x: 8, y: 131, width: 361, height: 4 }, style: { fill: '#c9302c' } });

var chart = echarts.init(document.getElementById('main'), null, { renderer: 'canvas' });
chart.setOption({
  animation: false,
  backgroundColor: '#fff',
  textStyle: { fontFamily: FONT },
  grid: grid, xAxis: xAxis, yAxis: yAxis, series: series, legend: legend, graphic: graphic
});
</script>
</body>
</html>
